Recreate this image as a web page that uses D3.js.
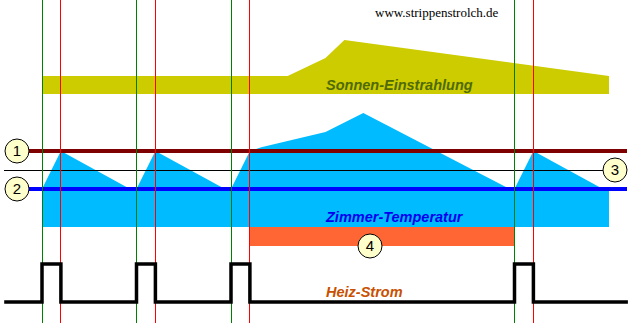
<!DOCTYPE html>
<html>
<head>
<meta charset="utf-8">
<script src="https://cdn.jsdelivr.net/npm/d3@7"></script>
<style>
  body { margin: 0; background: #fff; }
  svg { display: block; }
</style>
</head>
<body>
<div id="container"></div>
<script>
// ---------------- data ----------------
// time axis in arbitrary units (0..30)
const heatOn = [0, 5, 10, 25];     // green lines: heating switches on
const heatOff = [1, 6, 11, 26];    // red lines: heating switches off

const sunTimes = [0, 13, 15, 16, 30];
const sunValues = [1, 1, 2, 3, 1];

const tempTimes = [0, 1, 4.66, 5, 6, 9.68, 10, 11, 11.6, 15, 17, 24.75, 25, 26, 29.68, 30];
const tempValues = [19, 21, 19, 19, 21, 19, 19, 21, 21.2, 22, 23, 19, 19, 21, 19, 19];

const thresholdHigh = 21;   // (1)
const thresholdMid = 20;    // (3)
const thresholdLow = 19;    // (2)
const overheat = [11, 25];  // (4)

const heatTimes = [-2, 0, 1, 5, 6, 10, 11, 25, 26, 31];
const heatStates = [0, 1, 0, 1, 0, 1, 0, 1, 0, 0];

const labels = ['Sonnen-Einstrahlung', 'Zimmer-Temperatur', 'Heiz-Strom'];
const markers = ['1', '2', '3', '4'];

// ---------------- svg ----------------
const width = 633;
const height = 323;

const svg = d3.select('#container').append('svg')
    .attr('width', width)
    .attr('height', height);

const x = d3.scaleLinear().domain([0, 30]).range([42, 609]);
const sunY = d3.scaleLinear().domain([0, 3]).range([94, 40]);
const tempY = d3.scaleLinear().domain([17, 23]).range([227, 113]);
const heatY = d3.scaleLinear().domain([0, 1]).range([302, 264]);

// sun band
const sunData = sunTimes.map((t, i) => ({ t, v: sunValues[i] }));
svg.append('path')
    .datum(sunData)
    .attr('fill', '#cccc00')
    .attr('d', d3.area().x(d => x(d.t)).y0(sunY(0)).y1(d => sunY(d.v)));

// room temperature
const tempData = tempTimes.map((t, i) => ({ t, v: tempValues[i] }));
svg.append('path')
    .datum(tempData)
    .attr('fill', '#00bbff')
    .attr('d', d3.area().x(d => x(d.t)).y0(tempY(17)).y1(d => tempY(d.v)));

// overheat bar
svg.append('rect')
    .attr('x', x(overheat[0]))
    .attr('y', tempY(17))
    .attr('width', x(overheat[1]) - x(overheat[0]))
    .attr('height', 19)
    .attr('fill', '#ff6633');

// threshold lines
svg.append('line')
    .attr('x1', 17).attr('x2', 627)
    .attr('y1', tempY(thresholdHigh)).attr('y2', tempY(thresholdHigh))
    .attr('stroke', '#7f0000').attr('stroke-width', 4);
svg.append('line')
    .attr('x1', 17).attr('x2', 627)
    .attr('y1', tempY(thresholdLow)).attr('y2', tempY(thresholdLow))
    .attr('stroke', '#0000ff').attr('stroke-width', 4);
svg.append('line')
    .attr('x1', 4).attr('x2', 615)
    .attr('y1', tempY(thresholdMid) + 0.5).attr('y2', tempY(thresholdMid) + 0.5)
    .attr('stroke', '#000').attr('stroke-width', 1);

// labels
const labelStyle = [
  { y: 90, color: '#4f6a00' },
  { y: 222, color: '#0000ee' },
  { y: 297, color: '#c85000' }
];
svg.selectAll('text.label')
  .data(labels)
  .enter()
  .append('text')
  .attr('class', 'label')
  .attr('x', 326)
  .attr('y', (d, i) => labelStyle[i].y)
  .attr('fill', (d, i) => labelStyle[i].color)
  .style('font-family', 'Liberation Sans, Arial, sans-serif')
  .style('font-size', '14.5px')
  .style('font-weight', 'bold')
  .style('font-style', 'italic')
  .text(d => d);

// watermark
svg.append('text')
    .attr('x', 375).attr('y', 17)
    .style('font-family', 'Liberation Serif, Times New Roman, serif')
    .style('font-size', '13px')
    .attr('fill', '#000')
    .text('www.strippenstrolch.de');

// switching lines
svg.selectAll('line.on')
  .data(heatOn)
  .enter()
  .append('line')
  .attr('class', 'on')
  .attr('x1', d => Math.floor(x(d)) + 0.5).attr('x2', d => Math.floor(x(d)) + 0.5)
  .attr('y1', 0).attr('y2', height)
  .attr('stroke', '#008000')
  .attr('shape-rendering', 'crispEdges');
svg.selectAll('line.off')
  .data(heatOff)
  .enter()
  .append('line')
  .attr('class', 'off')
  .attr('x1', d => Math.floor(x(d)) + 0.5).attr('x2', d => Math.floor(x(d)) + 0.5)
  .attr('y1', 0).attr('y2', height)
  .attr('stroke', '#ff0000')
  .attr('shape-rendering', 'crispEdges');

// heating current
const heatData = heatTimes.map((t, i) => ({ t, v: heatStates[i] }));
svg.append('path')
    .datum(heatData)
    .attr('fill', 'none')
    .attr('stroke', '#000')
    .attr('stroke-width', 3.5)
    .attr('stroke-linejoin', 'miter')
    .attr('d', d3.line().x(d => x(d.t)).y(d => heatY(d.v)).curve(d3.curveStepAfter));

// numbered markers
const markerPos = [
  { cx: 17, cy: tempY(thresholdHigh) },
  { cx: 17, cy: tempY(thresholdLow) },
  { cx: 615, cy: tempY(thresholdMid) },
  { cx: 370, cy: 246 }
];
const mk = svg.selectAll('g.marker')
  .data(markers)
  .enter()
  .append('g')
  .attr('class', 'marker')
  .attr('transform', (d, i) => `translate(${markerPos[i].cx},${markerPos[i].cy})`);
mk.append('circle')
  .attr('r', 12)
  .attr('fill', '#ffffcc')
  .attr('stroke', '#000')
  .attr('stroke-width', 1);
mk.append('text')
  .attr('text-anchor', 'middle')
  .attr('dy', '0.36em')
  .style('font-family', 'Liberation Sans, Arial, sans-serif')
  .style('font-size', '15px')
  .text(d => d);
</script>
</body>
</html>
